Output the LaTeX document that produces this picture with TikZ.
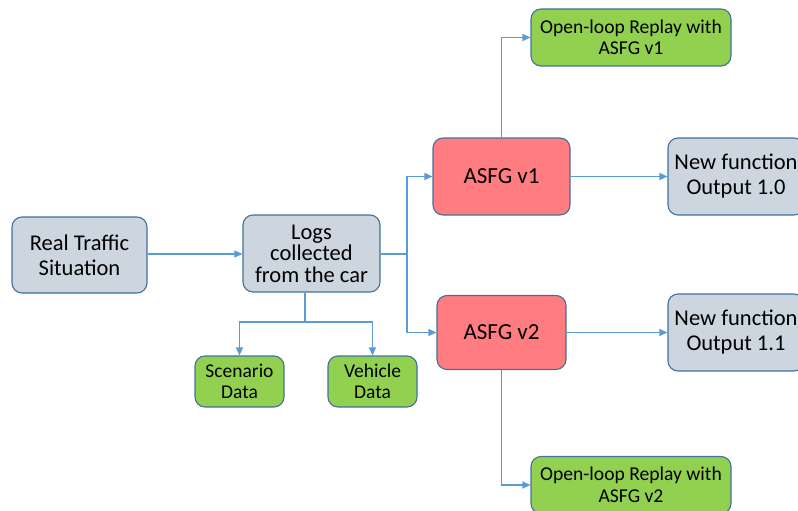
\documentclass[tikz,border=0pt]{standalone}
\usepackage{fontspec}
\setmainfont{Carlito}
\usetikzlibrary{arrows.meta,positioning}
\definecolor{boxline}{HTML}{41719C}
\definecolor{greyfill}{HTML}{CDD5DF}
\definecolor{redfill}{HTML}{FF7C80}
\definecolor{greenfill}{HTML}{92D050}
\definecolor{wire}{HTML}{5B9BD5}
\tikzset{
  card/.style={draw=boxline, line width=1.1pt, rounded corners=10pt, align=center,
    inner sep=0pt, font=\fontsize{22.5}{25}\selectfont},
  greybox/.style={card, fill=greyfill},
  redbox/.style={card, fill=redfill, font=\fontsize{23}{25}\selectfont},
  greenbox/.style={card, fill=greenfill, font=\fontsize{19.6}{21.5}\selectfont},
  smallgreen/.style={card, fill=greenfill, font=\fontsize{19.5}{21}\selectfont},
  wireline/.style={draw=wire, line width=1.1pt, -{Triangle[length=8pt,width=7pt]}},
}
\begin{document}
\begin{tikzpicture}[x=1pt,y=-1pt]
\useasboundingbox (0,0) rectangle (798,511);

\node[greybox, minimum width=135pt, minimum height=76pt] (real) at (79.5,255) {Real Traffic\\Situation};
\node[greybox, minimum width=137pt, minimum height=77pt, font=\fontsize{22.5}{21.5}\selectfont] (logs) at (311.5,253.5) {Logs\\collected\\from the car};
\node[redbox, minimum width=137pt, minimum height=77pt] (v1) at (501.5,176.5) {ASFG v1};
\node[redbox, minimum width=129pt, minimum height=74pt] (v2) at (501.5,332.5) {ASFG v2};
\node[greybox, minimum width=136pt, minimum height=77pt] (out10) at (736,176.5) {New function\\Output 1.0};
\node[greybox, minimum width=136pt, minimum height=77pt] (out11) at (736,332.5) {New function\\Output 1.1};
\node[greenbox, minimum width=200pt, minimum height=57pt] (ol1) at (631,37.5) {Open-loop Replay with\\ASFG v1};
\node[greenbox, minimum width=200pt, minimum height=57pt] (ol2) at (631,485) {Open-loop Replay with\\ASFG v2};
\node[smallgreen, minimum width=89pt, minimum height=51pt] (scen) at (239.5,381.5) {Scenario\\Data};
\node[smallgreen, minimum width=89pt, minimum height=51pt] (veh) at (372.5,381.5) {Vehicle\\Data};

% feed from the real situation into the log collection
\draw[wireline] (real.east |- 0,254) -- (logs.west |- 0,254);

% logs fan out to both ASFG versions
\coordinate (split) at (407,254);
\draw[draw=wire, line width=1.1pt] (logs.east |- split) -- (split);
\draw[wireline] (split) |- (v1.west);
\draw[wireline] (split) |- (v2.west);

% logs split into scenario and vehicle data
\coordinate (fork) at (305,322);
\draw[draw=wire, line width=1.1pt] (logs.south -| fork) -- (fork);
\draw[wireline] (fork) -| (scen.north);
\draw[wireline] (fork) -| (veh.north);

% outputs of each version
\draw[wireline] (v1.east) -- (out10.west);
\draw[wireline] (v2.east) -- (out11.west);
\draw[wireline] (v1.north) |- (ol1.west);
\draw[wireline] (v2.south) |- (ol2.west);
\end{tikzpicture}
\end{document}
